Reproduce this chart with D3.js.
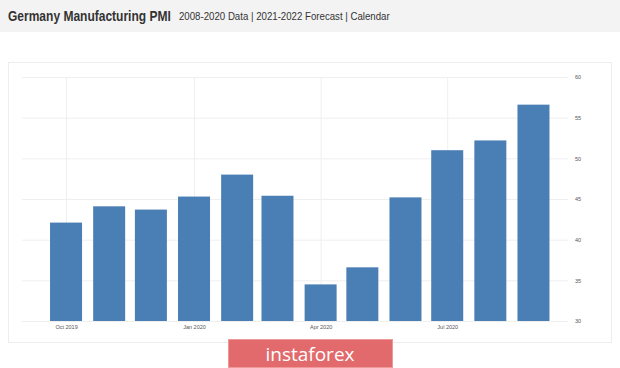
<!DOCTYPE html>
<html>
<head>
<meta charset="utf-8">
<script src="https://cdn.jsdelivr.net/npm/d3@7"></script>
<style>
  body { margin: 0; background: #fff; }
  svg { display: block; font-family: "Liberation Sans", Arial, sans-serif; }
  .grid line { stroke: #efefef; stroke-width: 1; }
  .axis text { fill: #555; font-size: 5.5px; }
</style>
</head>
<body>
<div class="chart"></div>
<script>
// monthly PMI readings, Oct 2019 - Sep 2020
const months = ["2019-10", "2019-11", "2019-12", "2020-01", "2020-02", "2020-03",
                "2020-04", "2020-05", "2020-06", "2020-07", "2020-08", "2020-09"]
const pmi = [42.1, 44.1, 43.7, 45.3, 48.0, 45.4, 34.5, 36.6, 45.2, 51.0, 52.2, 56.6]
const yTicks = [30, 35, 40, 45, 50, 55, 60]
const xTickMonths = ["2019-10", "2020-01", "2020-04", "2020-07"]

const parseMonth = d3.timeParse("%Y-%m")
const data = months.map((m, i) => ({ date: parseMonth(m), value: pmi[i] }))

const width = 620, height = 368

const svg = d3.select('.chart')
  .append('svg')
  .attr('width', width)
  .attr('height', height)

// header band
svg.append('rect')
  .attr('width', width)
  .attr('height', 32)
  .attr('fill', '#f3f3f3')

// squeeze header texts horizontally to the reference widths
const squeezed = (x, y, size, weight, target, label) => {
  const g = svg.append('g')
  const t = g.append('text')
    .attr('font-size', size)
    .attr('font-weight', weight)
    .attr('fill', '#333')
    .text(label)
  const k = target / t.node().getComputedTextLength()
  g.attr('transform', `translate(${x}, ${y}) scale(${k}, 1)`)
}
squeezed(8, 21, 15, 'bold', 163, 'Germany Manufacturing PMI')
squeezed(179, 20, 11, 'normal', 211, '2008-2020 Data | 2021-2022 Forecast | Calendar')

// chart panel frame
svg.append('rect')
  .attr('x', 8.5)
  .attr('y', 62.5)
  .attr('width', 603)
  .attr('height', 280)
  .attr('fill', 'none')
  .attr('stroke', '#ededed')

const plot = { left: 22, right: 568, top: 77, bottom: 321 }

const xScale = d3.scaleTime()
  .domain([new Date(2019, 8, 1), new Date(2020, 9, 1)])
  .range([24.3, 575.2])

const yScale = d3.scaleLinear()
  .domain([30, 60])
  .range([plot.bottom, plot.top])

// horizontal grid + right axis labels
svg.append('g')
  .attr('class', 'axis grid')
  .attr('transform', `translate(${plot.right}, 0)`)
  .call(
    d3.axisRight(yScale)
      .tickValues(yTicks)
      .tickSize(-(plot.right - plot.left))
      .tickPadding(7)
      .tickFormat(d3.format('d'))
  )

// vertical grid + bottom axis labels
svg.append('g')
  .attr('class', 'axis grid')
  .attr('transform', `translate(0, ${plot.bottom})`)
  .call(
    d3.axisBottom(xScale)
      .tickValues(xTickMonths.map(parseMonth))
      .tickSize(-(plot.bottom - plot.top))
      .tickPadding(4)
      .tickFormat(d3.timeFormat('%b %Y'))
  )

d3.selectAll('.axis').selectAll('.domain').remove()

const barW = 32

svg.selectAll('rect.bar')
  .data(data)
  .join('rect')
  .attr('class', 'bar')
  .attr('x', d => xScale(d.date) - barW / 2)
  .attr('y', d => yScale(d.value))
  .attr('width', barW)
  .attr('height', d => yScale(30) - yScale(d.value))
  .attr('fill', '#4a7fb5')

// watermark
svg.append('rect')
  .attr('x', 228.5)
  .attr('y', 339.5)
  .attr('width', 164)
  .attr('height', 28)
  .attr('fill', '#e26a6c')
  .attr('stroke', '#ef9a9a')

svg.append('text')
  .attr('x', 310)
  .attr('y', 361)
  .attr('text-anchor', 'middle')
  .attr('font-family', '"Open Sans", sans-serif')
  .attr('font-size', 19)
  .attr('fill', '#fff')
  .text('instaforex')
</script>
</body>
</html>
